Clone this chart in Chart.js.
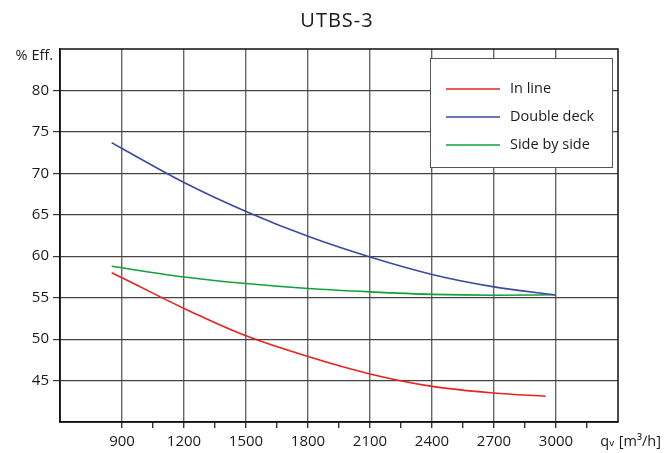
<!DOCTYPE html>
<html>
<head>
<meta charset="utf-8">
<script src="https://cdn.jsdelivr.net/npm/chart.js@4.4.0/dist/chart.umd.min.js"></script>
<style>
  html, body { margin: 0; padding: 0; background: #fff; }
  #wrap { width: 665px; height: 453px; position: relative; }
</style>
</head>
<body>
<div id="wrap"><canvas id="c" width="665" height="453"></canvas></div>
<script>
const chartTitle = 'UTBS-3';
const yAxisTitle = '% Eff.';
const xAxisTitle = 'qᵥ [m³/h]';
const seriesNames = ['In line', 'Double deck', 'Side by side'];
const seriesColors = ['#e8231f', '#3b4aa0', '#13a03c'];

const xInLine = [850, 900, 1200, 1500, 1800, 2100, 2400, 2700, 2950];
const inLine = [58.0, 57.4, 53.7, 50.4, 47.9, 45.8, 44.3, 43.5, 43.1];

const xDoubleDeck = [850, 900, 1200, 1500, 1800, 2100, 2400, 2700, 3000];
const doubleDeck = [73.7, 73.0, 68.9, 65.4, 62.4, 59.9, 57.8, 56.3, 55.3];

const xSideBySide = [850, 900, 1200, 1500, 1800, 2100, 2400, 2700, 3000];
const sideBySide = [58.8, 58.6, 57.5, 56.7, 56.1, 55.7, 55.4, 55.3, 55.35];

const xTickLabels = [900, 1200, 1500, 1800, 2100, 2400, 2700, 3000];
const yTickLabels = [45, 50, 55, 60, 65, 70, 75, 80];

const FONT = '"Open Sans", "DejaVu Sans", sans-serif';

function pts(xs, ys) { return xs.map((x, i) => ({ x: x, y: ys[i] })); }

const datasets = [
  { label: seriesNames[0], data: pts(xInLine, inLine), borderColor: seriesColors[0] },
  { label: seriesNames[1], data: pts(xDoubleDeck, doubleDeck), borderColor: seriesColors[1] },
  { label: seriesNames[2], data: pts(xSideBySide, sideBySide), borderColor: seriesColors[2] }
].map(d => Object.assign(d, {
  showLine: true, pointRadius: 0, borderWidth: 1.6, fill: false,
  cubicInterpolationMode: 'monotone'
}));

const decorPlugin = {
  id: 'decor',
  afterDraw(chart) {
    const ctx = chart.ctx;
    const ca = chart.chartArea;
    ctx.save();
    // plot frame
    ctx.strokeStyle = '#111';
    ctx.lineWidth = 1.5;
    ctx.strokeRect(ca.left, ca.top, ca.right - ca.left, ca.bottom - ca.top);
    // title
    ctx.fillStyle = '#1a1a1a';
    ctx.font = '20px ' + FONT;
    ctx.textAlign = 'center';
    ctx.textBaseline = 'middle';
    try { ctx.letterSpacing = '1px'; } catch (e) {}
    ctx.fillText(chartTitle, 337, 21);
    try { ctx.letterSpacing = '0px'; } catch (e) {}
    // axis titles
    ctx.font = '14.5px ' + FONT;
    ctx.textAlign = 'right';
    ctx.fillText(yAxisTitle, 53, 56);
    ctx.fillText(xAxisTitle, 661, 442);
    // legend box
    const lx = 430, ly = 58, lw = 182, lh = 109;
    ctx.fillStyle = '#fff';
    ctx.fillRect(lx, ly, lw, lh);
    ctx.strokeStyle = '#555';
    ctx.lineWidth = 1;
    ctx.strokeRect(lx + 0.5, ly + 0.5, lw, lh);
    chart.data.datasets.forEach((ds, i) => {
      const y = 89 + i * 28;
      ctx.strokeStyle = ds.borderColor;
      ctx.lineWidth = 1.6;
      ctx.beginPath();
      ctx.moveTo(446, y);
      ctx.lineTo(500, y);
      ctx.stroke();
      ctx.fillStyle = '#1a1a1a';
      ctx.textAlign = 'left';
      ctx.textBaseline = 'middle';
      ctx.font = '14.5px ' + FONT;
      ctx.fillText(ds.label, 510, y);
    });
    ctx.restore();
  }
};

new Chart(document.getElementById('c'), {
  type: 'scatter',
  data: { datasets: datasets },
  options: {
    responsive: false,
    animation: false,
    layout: { padding: { top: 49, right: 47, left: 0, bottom: 0 } },
    plugins: { legend: { display: false }, title: { display: false }, tooltip: { enabled: false } },
    scales: {
      x: {
        type: 'linear', min: 600, max: 3300,
        afterBuildTicks(scale) {
          const t = [];
          for (let v = 600; v <= 3300; v += 150) t.push({ value: v });
          scale.ticks = t;
        },
        afterFit(scale) { scale.height = 31; },
        border: { color: '#111', width: 1.5 },
        grid: {
          color: c => (c.tick && c.tick.value % 300 === 0 && c.tick.value > 600 && c.tick.value < 3300) ? '#666' : 'rgba(0,0,0,0)',
          lineWidth: 1.4,
          tickColor: c => (c.tick && (c.tick.value === 600 || c.tick.value === 750 || c.tick.value === 3300)) ? 'rgba(0,0,0,0)' : '#333',
          tickLength: 6,
          drawTicks: true
        },
        ticks: {
          autoSkip: false, maxRotation: 0, padding: 5,
          color: '#1a1a1a', font: { family: FONT, size: 15 },
          callback: v => xTickLabels.includes(v) ? String(v) : ''
        }
      },
      y: {
        type: 'linear', min: 40, max: 85,
        afterBuildTicks(scale) {
          const t = [];
          for (let v = 40; v <= 85; v += 5) t.push({ value: v });
          scale.ticks = t;
        },
        afterFit(scale) { scale.width = 60; },
        border: { color: '#111', width: 1.5 },
        grid: {
          color: c => (c.tick && c.tick.value > 40 && c.tick.value < 85) ? '#444' : 'rgba(0,0,0,0)',
          lineWidth: 1.2,
          tickColor: c => (c.tick && yTickLabels.includes(c.tick.value)) ? '#333' : 'rgba(0,0,0,0)',
          tickLength: 7,
          drawTicks: true
        },
        ticks: {
          autoSkip: false, padding: 4,
          color: '#1a1a1a', font: { family: FONT, size: 15 },
          callback: v => yTickLabels.includes(v) ? String(v) : ''
        }
      }
    }
  },
  plugins: [decorPlugin]
});
</script>
</body>
</html>
